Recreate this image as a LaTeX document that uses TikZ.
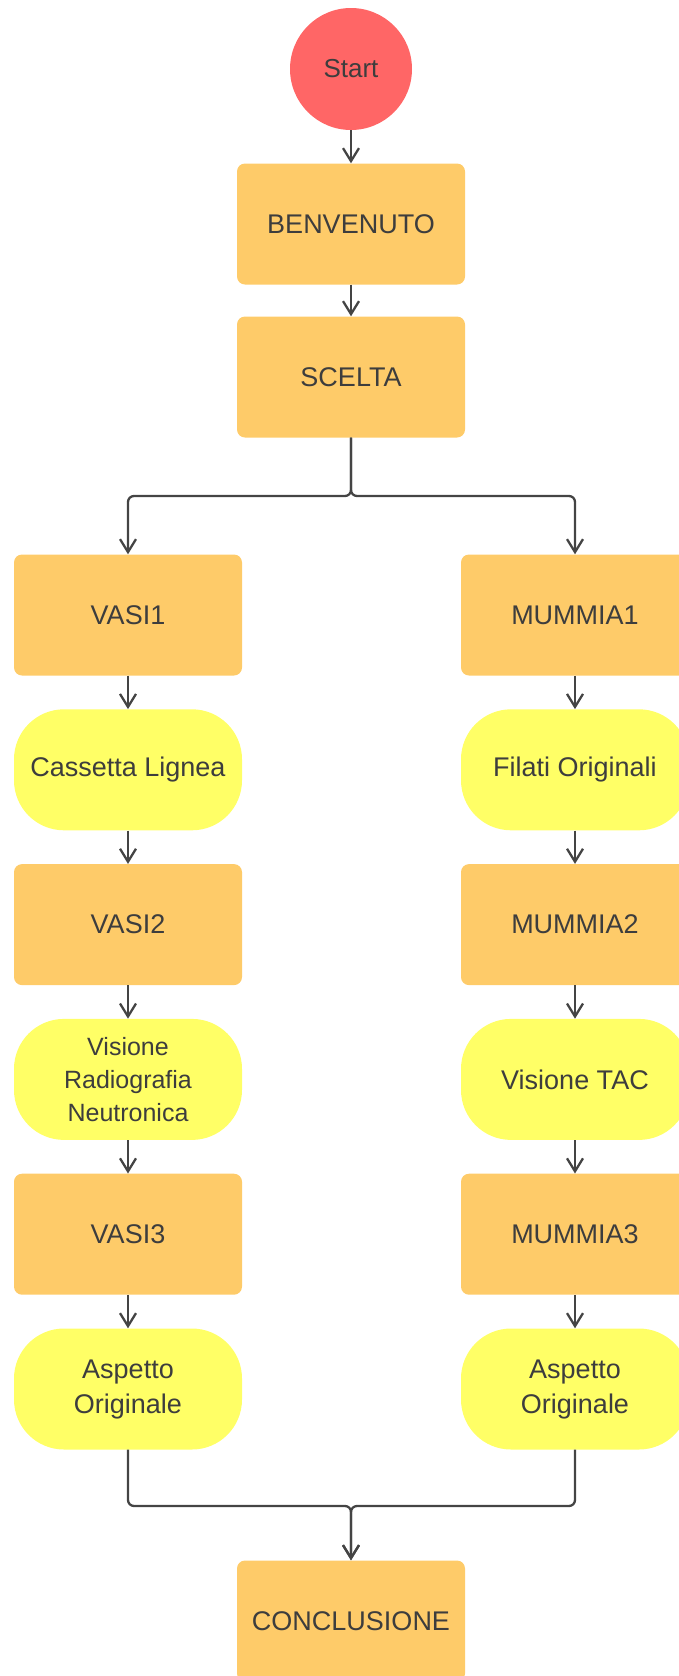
\documentclass[tikz,border=0pt]{standalone}
\usepackage{fontspec}
\setmainfont{Liberation Sans}
\usetikzlibrary{arrows.meta,positioning}
\definecolor{stageFill}{HTML}{FECB69}
\definecolor{infoFill}{HTML}{FFFF66}
\definecolor{startFill}{HTML}{FF6666}
\definecolor{textGrey}{HTML}{3D3D3D}
\definecolor{lineGrey}{HTML}{444444}

\begin{document}
\begin{tikzpicture}[x=1pt,y=-1pt,
  box/.style={align=center,inner sep=4pt,text=textGrey,font=\fontsize{27}{35}\selectfont,minimum width=228pt,minimum height=121pt},
  stage/.style={box,fill=stageFill,rounded corners=8pt},
  info/.style={box,fill=infoFill,rounded corners=50pt},
  arrow/.style={-{Straight Barb[length=13pt,width=16pt]},line width=2.3pt,draw=lineGrey},
  elbow/.style={arrow,rounded corners=6pt}
]
\useasboundingbox (0,0) rectangle (678,1676);
\node[circle,fill=startFill,minimum size=122pt,inner sep=0pt,text=textGrey,font=\fontsize{26}{32}\selectfont] (start) at (351,69) {Start};
\node[stage] (benvenuto) at (351,224) {BENVENUTO};
\node[stage] (scelta) at (351,377) {SCELTA};
% two columns of stages
\foreach \x/\col/\lbl in {128/A/VASI,575/B/MUMMIA} {
  \foreach \i/\y in {1/615,2/924.6,3/1234.2}
    \node[stage] (\col\i) at (\x,\y) {\lbl\i};
}
\node[info] (infoA1) at (128,769.8) {Cassetta Lignea};
\node[info,font=\fontsize{25}{33}\selectfont] (infoA2) at (128,1079.4) {Visione\\Radiografia\\Neutronica};
\node[info] (infoA3) at (128,1389) {Aspetto\\Originale};
\node[info] (infoB1) at (575,769.8) {Filati Originali};
\node[info] (infoB2) at (575,1079.4) {Visione TAC};
\node[info] (infoB3) at (575,1389) {Aspetto\\Originale};
\node[stage] (conclusione) at (351,1621) {CONCLUSIONE};
\coordinate (split) at (351,496);
\coordinate (merge) at (351,1506);
\draw[arrow] (start) -- (benvenuto);
\draw[arrow] (benvenuto) -- (scelta);
\draw[elbow] (scelta.south) -- (split) -| (A1.north);
\draw[elbow] (scelta.south) -- (split) -| (B1.north);
\foreach \col in {A,B} {
  \draw[arrow] (\col1) -- (info\col1);
  \draw[arrow] (info\col1) -- (\col2);
  \draw[arrow] (\col2) -- (info\col2);
  \draw[arrow] (info\col2) -- (\col3);
  \draw[arrow] (\col3) -- (info\col3);
  \draw[elbow] (info\col3.south) |- (merge) -- (conclusione.north);
}
\end{tikzpicture}
\end{document}
